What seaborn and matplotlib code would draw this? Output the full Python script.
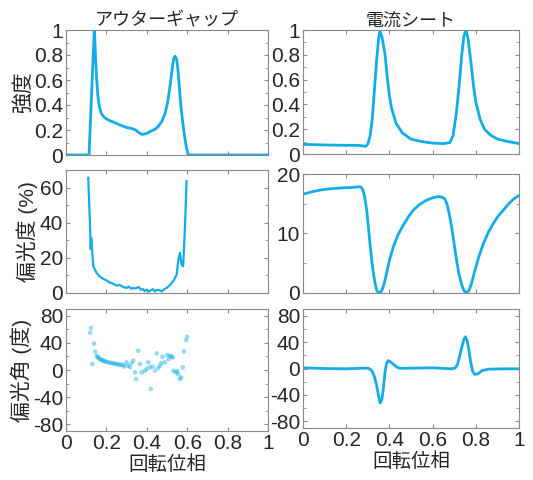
import numpy as np
import pandas as pd
import seaborn as sns
import matplotlib.pyplot as plt
from matplotlib.ticker import MultipleLocator

sns.set_style("ticks")
plt.rcParams['font.family'] = ['Liberation Sans', 'Noto Sans CJK JP']
plt.rcParams['axes.unicode_minus'] = False

# 強度 - アウターギャップ
og_int_x = [0.0, 0.114, 0.14, 0.143, 0.147, 0.152, 0.158, 0.165, 0.175, 0.19,
            0.21, 0.24, 0.267, 0.3, 0.33, 0.345, 0.36, 0.375, 0.395, 0.416,
            0.44, 0.456, 0.475, 0.49, 0.503, 0.515, 0.525, 0.533, 0.54, 0.547,
            0.553, 0.56, 0.566, 0.575, 0.585, 0.595, 0.605, 1.0]
og_int_y = [0.0, 0.0, 1.0, 0.92, 0.75, 0.6, 0.47, 0.39, 0.33, 0.3,
            0.28, 0.26, 0.24, 0.22, 0.21, 0.2, 0.18, 0.165, 0.17, 0.187,
            0.205, 0.227, 0.27, 0.33, 0.42, 0.55, 0.68, 0.77, 0.79, 0.77,
            0.7, 0.57, 0.44, 0.3, 0.17, 0.07, 0.0, 0.0]

# 強度 - 電流シート
cs_int_x = [0.0, 0.1, 0.2, 0.25, 0.275, 0.29, 0.3, 0.31, 0.32, 0.33,
            0.34, 0.35, 0.356, 0.365, 0.38, 0.39, 0.4, 0.41, 0.43, 0.46,
            0.5, 0.55, 0.6, 0.65, 0.68, 0.695, 0.71, 0.72, 0.735, 0.745,
            0.755, 0.765, 0.78, 0.79, 0.8, 0.82, 0.84, 0.87, 0.9, 0.95, 1.0]
cs_int_y = [0.078, 0.073, 0.07, 0.07, 0.066, 0.061, 0.08, 0.14, 0.27, 0.5,
            0.74, 0.93, 0.99, 0.95, 0.8, 0.62, 0.47, 0.37, 0.25, 0.17,
            0.12, 0.1, 0.088, 0.084, 0.092, 0.15, 0.33, 0.5, 0.8, 0.95,
            1.0, 0.92, 0.7, 0.54, 0.42, 0.28, 0.2, 0.15, 0.12, 0.1, 0.084]

# 偏光度 - アウターギャップ
og_pd_x = [0.11, 0.119, 0.122, 0.125, 0.129, 0.135, 0.145, 0.152, 0.165, 0.185,
           0.2, 0.215, 0.234, 0.25, 0.265, 0.284, 0.3, 0.31, 0.325, 0.333,
           0.345, 0.36, 0.37, 0.383, 0.39, 0.4, 0.41, 0.416, 0.43, 0.44,
           0.45, 0.465, 0.475, 0.485, 0.498, 0.51, 0.523, 0.532, 0.54, 0.548,
           0.556, 0.564, 0.572, 0.58, 0.589, 0.597]
og_pd_y = [65.7, 38.0, 25.0, 31.4, 24.8, 15.2, 12.8, 11.4, 9.6, 8.0,
           7.2, 6.0, 5.3, 4.2, 4.6, 3.4, 2.9, 3.6, 2.4, 2.9,
           2.6, 3.4, 1.9, 2.2, 1.0, 2.0, 0.8, 1.3, 2.2, 0.9,
           1.8, 1.5, 0.9, 2.0, 2.9, 4.0, 5.7, 7.0, 8.6, 10.5,
           19.0, 22.9, 16.2, 15.2, 38.0, 63.8]

# 偏光度 - 電流シート
cs_pd_x = [0.0, 0.04, 0.08, 0.12, 0.156, 0.2, 0.233, 0.255, 0.268, 0.278,
           0.286, 0.295, 0.303, 0.31, 0.318, 0.326, 0.334, 0.341, 0.35, 0.358,
           0.366, 0.375, 0.387, 0.4, 0.418, 0.44, 0.464, 0.49, 0.51, 0.54,
           0.572, 0.6, 0.625, 0.645, 0.657, 0.667, 0.677, 0.688, 0.7, 0.711,
           0.722, 0.735, 0.747, 0.758, 0.768, 0.78, 0.796, 0.815, 0.835, 0.858,
           0.881, 0.905, 0.927, 0.95, 0.975, 1.0]
cs_pd_y = [16.6, 17.0, 17.3, 17.5, 17.6, 17.7, 17.75, 17.85, 17.8, 17.3,
           16.0, 13.9, 11.0, 8.3, 5.5, 3.3, 1.6, 0.45, 0.05, 0.1,
           0.5, 1.5, 3.3, 5.5, 7.75, 9.8, 11.4, 12.9, 13.9, 14.9,
           15.6, 16.0, 16.2, 16.1, 15.8, 14.9, 13.3, 11.1, 8.2, 5.5,
           3.2, 1.3, 0.3, 0.1, 0.4, 1.6, 3.8, 6.2, 8.3, 10.2,
           11.7, 13.0, 13.9, 14.9, 15.8, 16.4]

# 偏光角 - アウターギャップ (散布)
og_pa_x = [0.124, 0.119, 0.139, 0.130, 0.145, 0.152, 0.157, 0.162, 0.168, 0.174,
           0.18, 0.185, 0.192, 0.2, 0.208, 0.218, 0.226, 0.234, 0.242, 0.25,
           0.258, 0.266, 0.275, 0.283, 0.29, 0.3, 0.308, 0.317, 0.325, 0.333,
           0.342, 0.347, 0.358, 0.366, 0.375, 0.391, 0.4, 0.408, 0.416, 0.419,
           0.43, 0.441, 0.449, 0.457, 0.465, 0.472, 0.478, 0.49, 0.501, 0.508,
           0.515, 0.522, 0.528, 0.531, 0.543, 0.55, 0.555, 0.564, 0.57, 0.578,
           0.584, 0.594, 0.6]
og_pa_y = [61.9, 55.0, 39.0, 8.8, 27.0, 21.0, 19.0, 17.7, 16.2, 15.0,
           14.2, 13.7, 12.8, 12.0, 11.4, 10.8, 10.2, 9.8, 9.3, 8.8,
           8.3, 7.9, 7.6, 7.3, 5.0, 11.3, 6.5, 3.9, 10.0, 13.7,
           -3.5, -13.3, 28.4, 8.8, -3.5, -1.0, 2.0, 11.3, 3.9, -28.0,
           5.0, -1.0, 24.5, 3.0, 6.4, 10.0, 19.6, 11.3, 22.0, 16.0,
           21.0, 19.5, 18.6, -1.0, -3.5, -1.5, -6.0, -13.3, -11.0, 3.9,
           27.5, 44.0, 49.0]

# 偏光角 - 電流シート
cs_pa_x = [0.0, 0.1, 0.2, 0.28, 0.3, 0.31, 0.32, 0.33, 0.34, 0.35,
           0.357, 0.365, 0.372, 0.38, 0.387, 0.395, 0.405, 0.42, 0.435, 0.45,
           0.5, 0.6, 0.69, 0.705, 0.715, 0.725, 0.735, 0.745, 0.752, 0.76,
           0.768, 0.776, 0.785, 0.795, 0.81, 0.83, 0.86, 0.93, 1.0]
cs_pa_y = [1.0, 0.0, -0.5, 0.5, 0.5, -1.0, -4.0, -12.0, -24.0, -42.0,
           -52.0, -47.0, -30.0, -5.0, 8.0, 12.0, 10.0, 6.0, 2.0, 0.3,
           0.5, 1.0, -0.5, 1.0, 6.0, 18.0, 32.0, 44.0, 48.0, 42.0,
           28.0, 10.0, -4.0, -9.0, -8.0, -3.0, -1.0, -0.5, -0.5]

titles = ['アウターギャップ', '電流シート']
xlabel = '回転位相'
ylabels = ['強度', '偏光度 (%)', '偏光角 (度)']

blue = '#12ADE8'
gray = '#8a8a8a'

fig = plt.figure(figsize=(5.33, 4.8), dpi=100)

W, H = 533, 480
cols = [(66, 268), (303, 519)]
rows = [[(30, 155), (30, 154)], [(170, 293), (174, 293)], [(309, 431), (309, 428)]]

axes = [[None, None] for _ in range(3)]
for r in range(3):
    for c in range(2):
        x0, x1 = cols[c]
        t, b = rows[r][c]
        axes[r][c] = fig.add_axes([x0 / W, 1 - b / H, (x1 - x0) / W, (b - t) / H])

lw = 2.0
sns.lineplot(x=og_int_x, y=og_int_y, ax=axes[0][0], color=blue, lw=lw, sort=False)
sns.lineplot(x=cs_int_x, y=cs_int_y, ax=axes[0][1], color=blue, lw=lw, sort=False)
sns.lineplot(x=og_pd_x, y=og_pd_y, ax=axes[1][0], color=blue, lw=1.6, sort=False)
sns.lineplot(x=cs_pd_x, y=cs_pd_y, ax=axes[1][1], color=blue, lw=lw, sort=False)
sns.scatterplot(x=og_pa_x, y=og_pa_y, ax=axes[2][0], color=blue, s=11,
                alpha=0.45, edgecolor='none')
sns.lineplot(x=cs_pa_x, y=cs_pa_y, ax=axes[2][1], color=blue, lw=lw, sort=False)

for r in range(3):
    for c in range(2):
        ax = axes[r][c]
        ax.set_xlim(0, 1)
        ax.xaxis.set_major_locator(MultipleLocator(0.2))
        ax.tick_params(which='both', direction='in', top=True, right=True,
                       color=gray, labelsize=15, pad=2, length=3)
        ax.tick_params(which='minor', length=2)
        for s in ax.spines.values():
            s.set_color(gray)
            s.set_linewidth(0.8)
        if r < 2:
            ax.set_xticklabels([])
        else:
            ax.set_xticks([0, 0.2, 0.4, 0.6, 0.8, 1])
            ax.set_xticklabels(['0', '0.2', '0.4', '0.6', '0.8', '1'])
            ax.set_xlabel(xlabel, fontsize=14, labelpad=2)
        if c == 0:
            ax.set_ylabel(ylabels[r], fontsize=15, labelpad=1)

for c in range(2):
    ax = axes[0][c]
    ax.set_ylim(0, 1)
    ax.set_yticks([0, 0.2, 0.4, 0.6, 0.8, 1])
    ax.set_yticklabels(['0', '0.2', '0.4', '0.6', '0.8', '1'])
    ax.yaxis.set_minor_locator(MultipleLocator(0.1))
    ax.set_title(titles[c], fontsize=13, pad=3)

axes[1][0].set_ylim(0, 70)
axes[1][0].yaxis.set_major_locator(MultipleLocator(20))
axes[1][0].yaxis.set_minor_locator(MultipleLocator(10))
axes[1][1].set_ylim(0, 20)
axes[1][1].yaxis.set_major_locator(MultipleLocator(10))
axes[1][1].yaxis.set_minor_locator(MultipleLocator(5))
for c in range(2):
    ax = axes[2][c]
    ax.set_ylim(-90, 90)
    ax.set_yticks([-80, -40, 0, 40, 80])
    ax.yaxis.set_minor_locator(MultipleLocator(20))

fig.savefig('out.png', dpi=100)
